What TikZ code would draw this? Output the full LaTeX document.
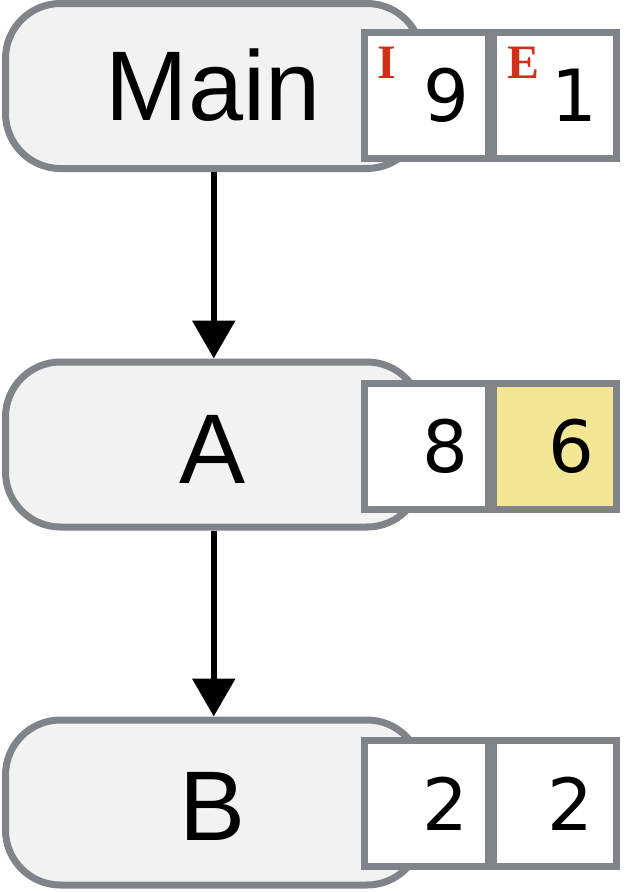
\documentclass[tikz,border=0pt]{standalone}
\usepackage{fontspec}
\setmainfont{Liberation Sans}
\newfontfamily\digitfont{DejaVu Sans}
\newfontfamily\markfont{Liberation Serif}
\usetikzlibrary{arrows.meta}
\definecolor{bordergray}{HTML}{808388}
\definecolor{boxfill}{HTML}{F2F2F2}
\definecolor{hilite}{HTML}{F3E796}
\definecolor{markred}{HTML}{D0301A}
\tikzset{
  procbox/.style={draw=bordergray, fill=boxfill, line width=7pt, rounded corners=55pt,
    minimum width=416.5pt, minimum height=165pt, inner sep=0pt},
  numcell/.style={draw=bordergray, fill=white, line width=7pt, inner sep=0pt,
    minimum height=126pt},
  lbl/.style={inner sep=0pt, font=\fontsize{99}{100}\selectfont},
  numtext/.style={inner sep=0pt, font=\digitfont\fontsize{72}{76}\selectfont},
  redmark/.style={inner sep=0pt, text=markred, font=\markfont\bfseries\fontsize{48}{50}\selectfont},
  flow/.style={line width=6pt, -{Triangle[width=42pt,length=38pt]}}
}
\begin{document}
\begin{tikzpicture}[x=1pt,y=-1pt]
\useasboundingbox (0,0) rectangle (625,892);
% boxes
\node[procbox] (main) at (213.75,86) {};
\node[procbox] (a) at (213.75,444.5) {};
\node[procbox] (b) at (213.75,802.5) {};
% labels
\node[lbl, anchor=base] (mainlbl) at (213,120) {Main};
\node[lbl, anchor=base] (albl) at (213,483) {A};
\node[lbl, anchor=base] (blbl) at (213,840) {B};
% cells
\node[numcell, minimum width=124pt] (m1) at (426.5,95.5) {};
\node[numcell, minimum width=123pt] (m2) at (555,95.5) {};
\node[numcell, minimum width=124pt] (a1) at (426.5,446) {};
\node[numcell, minimum width=123pt, fill=hilite] (a2) at (555,446) {};
\node[numcell, minimum width=124pt] (b1) at (426.5,803.5) {};
\node[numcell, minimum width=123pt] (b2) at (555,803.5) {};
% numbers
\node[numtext, anchor=base east] (m1n) at (470,121.5) {9};
\node[numtext, anchor=base east] (m2n) at (598,121.5) {1};
\node[numtext, anchor=base east] (a1n) at (469,472) {8};
\node[numtext, anchor=base east] (a2n) at (595,472) {6};
\node[numtext, anchor=base east] (b1n) at (469,830) {2};
\node[numtext, anchor=base east] (b2n) at (594,830) {2};
% red marks
\node[redmark, anchor=base west] (mI) at (377,78) {I};
\node[redmark, anchor=base west] (mE) at (507,78) {E};
% connectors
\draw[flow] (main.south) -- (a.north);
\draw[flow] (a.south) -- (b.north);
\end{tikzpicture}
\end{document}
